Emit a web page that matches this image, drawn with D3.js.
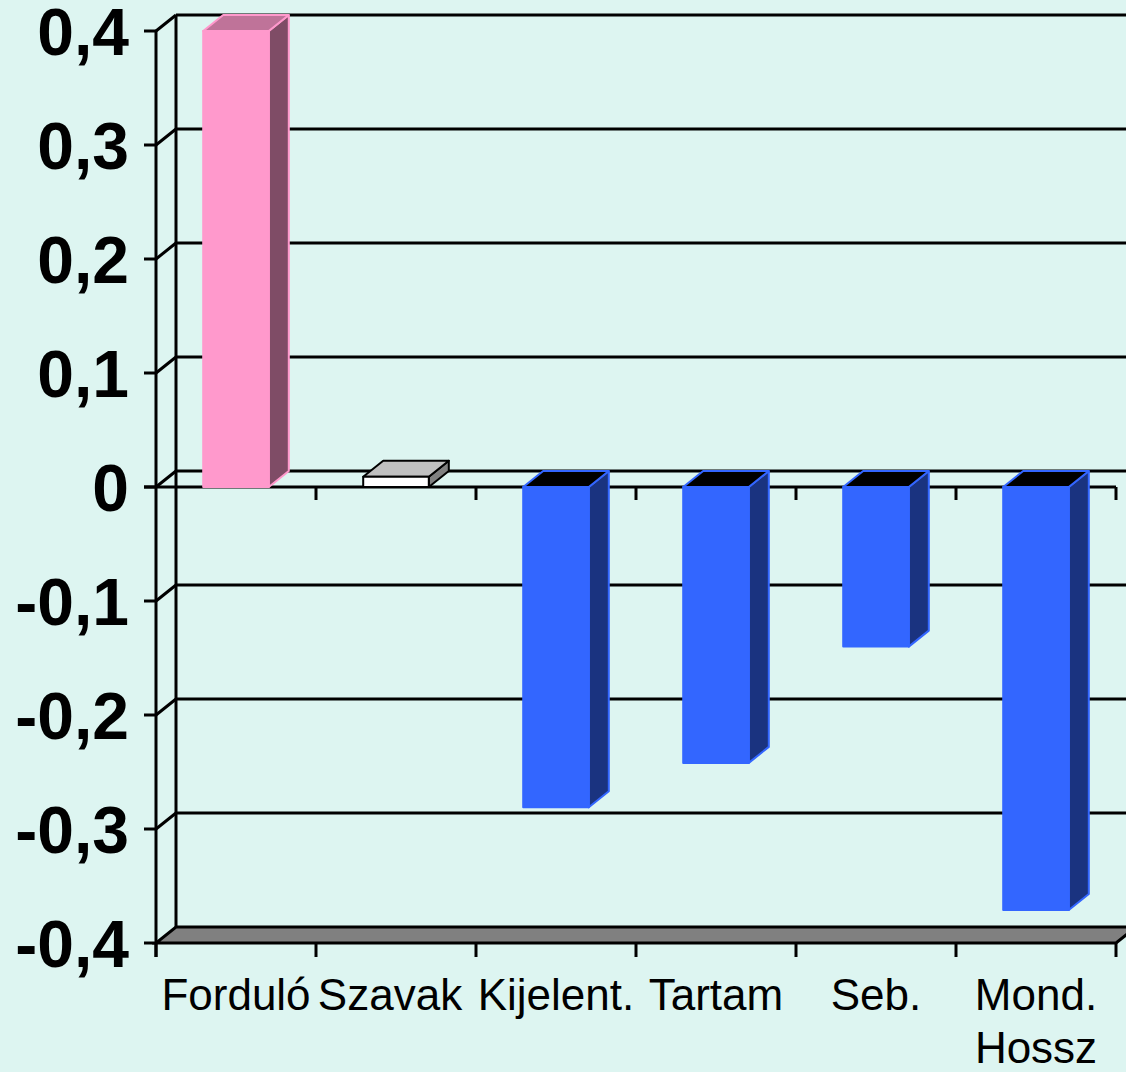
<!DOCTYPE html>
<html>
<head>
<meta charset="utf-8">
<script src="https://cdn.jsdelivr.net/npm/d3@7"></script>
<style>
  html, body { margin: 0; padding: 0; background: #ddf5f1; overflow: hidden; }
  svg { display: block; }
</style>
</head>
<body>
<svg id="chart" width="1126" height="1072"></svg>
<script>
// values
const categories = ["Forduló", "Szavak", "Kijelent.", "Tartam", "Seb.", "Mond. Hossz"];
const values = [0.4, 0.009, -0.281, -0.242, -0.14, -0.371];
const yTicks = [0.4, 0.3, 0.2, 0.1, 0, -0.1, -0.2, -0.3, -0.4];
const yTickLabels = ["0,4", "0,3", "0,2", "0,1", "0", "-0,1", "-0,2", "-0,3", "-0,4"];

// bar colours: front / top / side / edge
const pal = [
  {front: "#ff99cc", top: "#bf7399", side: "#7f4c66", edge: "#ff99cc"},
  {front: "#ffffff", top: "#c0c0c0", side: "#808080", edge: "#000000"},
  {front: "#3366ff", top: "#000000", side: "#1a3380", edge: "#3366ff"},
  {front: "#3366ff", top: "#000000", side: "#1a3380", edge: "#3366ff"},
  {front: "#3366ff", top: "#000000", side: "#1a3380", edge: "#3366ff"},
  {front: "#3366ff", top: "#000000", side: "#1a3380", edge: "#3366ff"}
];

const svg = d3.select("#chart");
const dx = 20, dy = -16;      // depth of the 3d walls
const x0 = 156, x1 = 1116;

const y = d3.scaleLinear().domain([-0.4, 0.4]).range([943, 31]);
const x = d3.scaleBand().domain(categories).range([x0, x1]);
const barW = x.bandwidth() * 0.41;

const poly = pts => "M" + pts.map(p => p.join(",")).join("L") + "Z";

// back wall gridlines + side wall diagonals
const grid = svg.append("g").attr("stroke", "#000").attr("stroke-width", 3).attr("fill", "none");
yTicks.filter(t => t !== -0.4).forEach(t => {
  const yy = y(t);
  grid.append("line").attr("x1", x0 + dx).attr("x2", x1 + dx + 20).attr("y1", yy + dy).attr("y2", yy + dy);
  grid.append("line").attr("x1", x0).attr("x2", x0 + dx).attr("y1", yy).attr("y2", yy + dy);
});
grid.append("line").attr("x1", x0 + dx).attr("x2", x0 + dx).attr("y1", y(0.4) + dy).attr("y2", y(-0.4) + dy);

// floor
svg.append("path")
  .attr("d", poly([[x0, y(-0.4)], [x1, y(-0.4)], [x1 + dx, y(-0.4) + dy], [x0 + dx, y(-0.4) + dy]]))
  .attr("fill", "#808080").attr("stroke", "#000").attr("stroke-width", 3);

// front value axis
const axis = svg.append("g").attr("stroke", "#000").attr("stroke-width", 3);
axis.append("line").attr("x1", x0).attr("x2", x0).attr("y1", y(0.4)).attr("y2", y(-0.4) + 14);
yTicks.forEach(t => {
  axis.append("line").attr("x1", x0 - 12).attr("x2", x0).attr("y1", y(t)).attr("y2", y(t));
});

// category axis at zero + ticks under the floor
axis.append("line").attr("x1", x0 - 12).attr("x2", x1).attr("y1", y(0)).attr("y2", y(0));
const bounds = categories.map(c => x(c)).concat([x1]);
bounds.forEach((b, i) => {
  if (i > 0) axis.append("line").attr("x1", b).attr("x2", b).attr("y1", y(0)).attr("y2", y(0) + 13);
  axis.append("line").attr("x1", b).attr("x2", b).attr("y1", y(-0.4)).attr("y2", y(-0.4) + 14);
});

// bars
const bars = svg.append("g");
categories.forEach((c, i) => {
  const v = values[i], p = pal[i];
  const bx0 = x(c) + (x.bandwidth() - barW) / 2, bx1 = bx0 + barW;
  const yTop = y(Math.max(v, 0)), yBot = y(Math.min(v, 0));
  const g = bars.append("g").attr("stroke", p.edge).attr("stroke-width", 2).attr("stroke-linejoin", "round");
  g.append("path").attr("fill", p.side)
    .attr("d", poly([[bx1, yTop], [bx1 + dx, yTop + dy], [bx1 + dx, yBot + dy], [bx1, yBot]]));
  g.append("path").attr("fill", p.top)
    .attr("d", poly([[bx0, yTop], [bx1, yTop], [bx1 + dx, yTop + dy], [bx0 + dx, yTop + dy]]));
  g.append("rect").attr("fill", p.front)
    .attr("x", bx0).attr("y", yTop).attr("width", barW).attr("height", yBot - yTop);
});

// value labels
svg.append("g")
  .attr("font-family", "Arial, 'Liberation Sans', sans-serif")
  .attr("font-weight", "bold").attr("font-size", 66).attr("text-anchor", "end")
  .selectAll("text").data(yTicks).join("text")
  .attr("x", 129).attr("y", d => y(d)).attr("dy", "0.36em")
  .text((d, i) => yTickLabels[i]);

// category labels, only "Mond. Hossz" wraps
const catG = svg.append("g")
  .attr("font-family", "Arial, 'Liberation Sans', sans-serif")
  .attr("font-size", 44).attr("text-anchor", "middle");
categories.forEach(c => {
  const cx = x(c) + x.bandwidth() / 2 - (c === "Szavak" ? 6 : 0);
  const t = catG.append("text").attr("x", cx).attr("y", 1010);
  (c === "Mond. Hossz" ? c.split(" ") : [c]).forEach((w, j) => {
    t.append("tspan").attr("x", cx).attr("dy", j === 0 ? 0 : 53).text(w);
  });
});
</script>
</body>
</html>
